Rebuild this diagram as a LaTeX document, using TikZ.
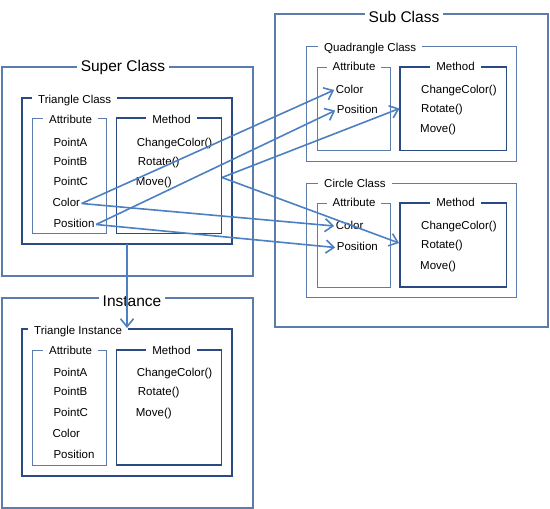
\documentclass[tikz,border=0pt]{standalone}
\usepackage{fontspec}
\setmainfont{Liberation Sans}
\usetikzlibrary{arrows.meta}

\definecolor{boxline}{RGB}{92,124,172}
\definecolor{boxdark}{RGB}{42,74,132}
\definecolor{linkblue}{RGB}{76,128,194}

\begin{document}
\begin{tikzpicture}[x=1pt, y=-1pt,
        outerbox/.style={draw=boxline, line width=1.1pt},
        thinbox/.style={draw=boxline, line width=1pt},
        thickbox/.style={draw=boxdark, line width=1.8pt},
        bigtitle/.style={fill=white, inner xsep=4pt, inner ysep=1pt, font=\fontsize{15.5}{17}\selectfont},
        smalltitle/.style={fill=white, inner xsep=6pt, inner ysep=1pt, text height=8pt, text depth=2pt, font=\fontsize{11.5}{13}\selectfont},
        item/.style={anchor=west, inner xsep=1.5pt, inner ysep=0pt, text height=8pt, text depth=2pt, font=\fontsize{11.5}{13}\selectfont},
        link/.style={draw=linkblue, line width=1.6pt, -{Straight Barb[length=8pt, width=13pt]}}]
            \useasboundingbox (0,0) rectangle (550,509);

            % super class
            \draw[outerbox] (2,67) rectangle (253,276);
            \node[bigtitle] (super) at (123,67) {Super Class};
            \draw[thickbox] (22,98) rectangle (232,244);
            \node[smalltitle, anchor=west] (tri) at (32,100.5) {Triangle Class};
            \draw[thinbox] (32.5,118) rectangle (106,233.5);
            \node[smalltitle] at (70.5,120) {Attribute};
            \draw[thickbox] (116.5,118) rectangle (221.5,233.5);
            \node[smalltitle] at (171.5,120) {Method};
            \node[item] (triA) at (51.8,143) {PointA};
            \node[item] (triB) at (51.8,162.5) {PointB};
            \node[item] (triC) at (51.8,182.5) {PointC};
            \node[item] (triColor) at (50.8,203.5) {Color};
            \node[item] (triPos) at (51.8,224.5) {Position};
            \node[item] (triChange) at (135.2,143) {ChangeColor()};
            \node[item] (triRotate) at (136.2,162.5) {Rotate()};
            \node[item] (triMove) at (134.2,182.5) {Move()};
            \coordinate (triMeth) at (222,177.5);
            \coordinate (triBottom) at (127,244);

            % sub class
            \draw[outerbox] (275,14) rectangle (548,327);
            \node[bigtitle] (sub) at (404,17) {Sub Class};
            \draw[thinbox] (306,46) rectangle (516.5,161);
            \node[smalltitle, anchor=west] (quad) at (318,48) {Quadrangle Class};
            \draw[thinbox] (317,67) rectangle (390.5,150.5);
            \node[smalltitle] at (354,67) {Attribute};
            \draw[thickbox] (400,67) rectangle (506.5,150.5);
            \node[smalltitle] at (455.5,67) {Method};
            \node[item] (quadColor) at (334.2,90) {Color};
            \node[item] (quadPos) at (335.2,110.5) {Position};
            \node[item] (quadChange) at (419.5,90) {ChangeColor()};
            \node[item] (quadRotate) at (419.5,109) {Rotate()};
            \node[item] (quadMove) at (418.5,129.3) {Move()};
            \coordinate (quadMeth) at (399.5,108.5);

            \draw[thinbox] (306,183) rectangle (516.5,297.5);
            \node[smalltitle, anchor=west] (circ) at (318,184) {Circle Class};
            \draw[thinbox] (317,203) rectangle (390.5,287);
            \node[smalltitle] at (354,203) {Attribute};
            \draw[thickbox] (400,203) rectangle (506.5,287);
            \node[smalltitle] at (455.5,203) {Method};
            \node[item] (circColor) at (334.2,226) {Color};
            \node[item] (circPos) at (335.2,247.5) {Position};
            \node[item] (circChange) at (419.5,226) {ChangeColor()};
            \node[item] (circRotate) at (419.5,245) {Rotate()};
            \node[item] (circMove) at (418.5,266.7) {Move()};
            \coordinate (circMeth) at (399,243);

            % instance
            \draw[outerbox] (2,298) rectangle (253,508);
            \node[bigtitle] (inst) at (132,301) {Instance};
            \draw[thickbox] (22,329) rectangle (232,476);
            \node[smalltitle, anchor=west] (triInst) at (28,331.5) {Triangle Instance};
            \draw[thinbox] (32.5,350) rectangle (106,465);
            \node[smalltitle] at (70.5,351) {Attribute};
            \draw[thickbox] (116.5,350) rectangle (221.5,465);
            \node[smalltitle] at (171.5,351) {Method};
            \node[item] (instA) at (51.8,373.3) {PointA};
            \node[item] (instB) at (51.8,392.3) {PointB};
            \node[item] (instC) at (51.8,413.3) {PointC};
            \node[item] (instColor) at (50.8,434) {Color};
            \node[item] (instPos) at (51.8,455.5) {Position};
            \node[item] (instChange) at (135.2,373.3) {ChangeColor()};
            \node[item] (instRotate) at (136.2,392.3) {Rotate()};
            \node[item] (instMove) at (134.2,413.3) {Move()};
            \coordinate (instTop) at (127,328);

            % links
            \draw[link] (triColor.east) -- (quadColor.west);
            \draw[link] (triPos.east) -- (quadPos.west);
            \draw[link] (triMeth) -- (quadMeth);
            \draw[link] (triMeth) -- (circMeth);
            \draw[link] (triColor.east) -- (circColor.west);
            \draw[link] (triPos.east) -- (circPos.west);
            \draw[link] (triBottom) -- (instTop);
        \end{tikzpicture}
\end{document}
